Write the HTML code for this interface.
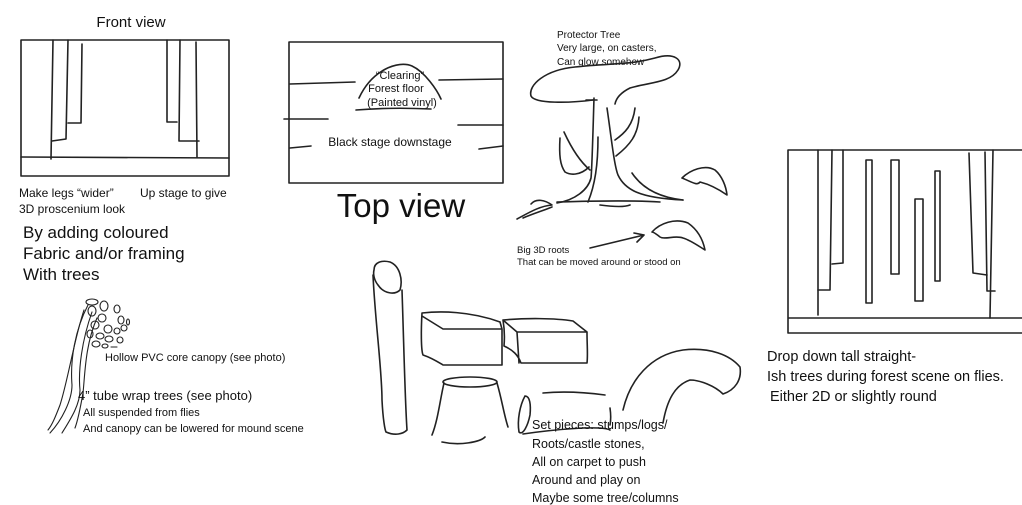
<!DOCTYPE html>
<html><head><meta charset="utf-8"><style>
html,body{margin:0;padding:0;background:#fff;width:1022px;height:505px;overflow:hidden}
svg{display:block}
text{font-family:"Liberation Sans",Arial,sans-serif;fill:#111}
.l{fill:none;stroke:#222;stroke-width:1.6;stroke-linecap:round;stroke-linejoin:round}
.t{fill:none;stroke:#222;stroke-width:1.1;stroke-linecap:round}
</style></head><body>
<svg width="1022" height="505" viewBox="0 0 1022 505" xmlns="http://www.w3.org/2000/svg">
<!-- Front view -->
<text x="131" y="27" font-size="15" text-anchor="middle">Front view</text>
<rect x="21" y="40" width="208" height="136" class="l"/>
<line x1="21" y1="157" x2="229" y2="158" class="l"/>
<polyline points="53,40 51,159" class="l"/>
<polyline points="52,141 66,139 68,40" class="l"/>
<polyline points="68,123 81,123 82,44" class="l"/>
<polyline points="167,40 167,122 177,122" class="l"/>
<polyline points="180,40 179,141 199,141" class="l"/>
<polyline points="196,42 197,157" class="l"/>
<text x="19" y="197" font-size="12">Make legs “wider”</text>
<text x="140" y="197" font-size="12">Up stage to give</text>
<text x="19" y="213" font-size="12">3D proscenium look</text>
<text x="23" y="238" font-size="17">By adding coloured</text>
<text x="23" y="259" font-size="17">Fabric and/or framing</text>
<text x="23" y="280" font-size="17">With trees</text>

<!-- Top view -->
<rect x="289" y="42" width="214" height="141" class="l"/>
<line x1="290" y1="84" x2="355" y2="82" class="l"/>
<line x1="439" y1="80" x2="503" y2="79" class="l"/>
<line x1="284" y1="119" x2="328" y2="119" class="l"/>
<line x1="458" y1="125" x2="503" y2="125" class="l"/>
<line x1="290" y1="148" x2="311" y2="146" class="l"/>
<line x1="479" y1="149" x2="503" y2="146" class="l"/>
<path d="M359,98 C372,70 398,60 412,66 C425,72 437,90 441,99" class="l"/>
<path d="M356,110 C380,108 410,108 431,109" class="l"/>
<text x="400" y="79" font-size="11" text-anchor="middle">“Clearing”</text>
<text x="396" y="92" font-size="11" text-anchor="middle">Forest floor</text>
<text x="402" y="106" font-size="11" text-anchor="middle">(Painted vinyl)</text>
<text x="390" y="146" font-size="12" text-anchor="middle">Black stage downstage</text>
<text x="401" y="217" font-size="33" text-anchor="middle">Top view</text>

<!-- Protector tree -->
<text x="557" y="38" font-size="10">Protector Tree</text>
<text x="557" y="51" font-size="10">Very large, on casters,</text>
<text x="557" y="65" font-size="10">Can glow somehow</text>
<path d="M593,100 C570,103 535,104 531,96 C528,85 545,70 575,67 C610,63 630,65 655,58 C675,52 684,60 678,70 C670,83 650,82 630,88 C620,93 616,99 615,104" class="l"/>
<path d="M586,100 L597,100 M594,98 C593,130 592,170 591,178 C588,190 575,200 557,203" class="l"/>
<path d="M598,137 C598,165 595,185 588,202" class="l"/>
<path d="M607,108 C611,135 614,165 618,175 C625,190 640,198 683,200" class="l"/>
<path d="M557,202 C590,201 630,200 660,202 M600,205 C615,207 625,207 630,205" class="l"/>
<path d="M560,138 C559,155 560,165 565,172 C570,175 580,176 589,167" class="l"/>
<path d="M564,132 C570,145 578,160 590,170" class="l"/>
<path d="M615,140 C625,133 633,125 635,108" class="l"/>
<path d="M616,156 C630,145 638,135 639,117" class="l"/>
<path d="M632,173 C640,185 655,197 683,200" class="l"/>
<path d="M517,219 C530,212 540,206 552,205 C545,200 536,198 531,204 M523,218 C535,213 545,210 552,207" class="l"/>
<path d="M682,178 C690,170 705,164 715,170 C722,176 726,186 727,195 C717,188 708,184 700,182 C697,186 692,182 682,178" class="l"/>
<path d="M652,232 C660,223 675,218 688,223 C698,230 703,240 705,250 C697,245 690,240 683,238 C675,235 665,240 660,237 C656,234 654,232 652,232" class="l"/>
<text x="517" y="253" font-size="9.5">Big 3D roots</text>
<text x="517" y="265" font-size="9.5">That can be moved around or stood on</text>
<path d="M590,248 L644,235 M634,233 L644,235 L637,242" class="l" stroke-width="1.3"/>

<!-- Drop down trees -->
<path d="M788,150 L1022,150 M788,150 L788,333 L1022,333 M788,318 L1022,318" class="l"/>
<polyline points="818,150 818,315" class="l"/>
<polyline points="818,290 830,290 832,150" class="l"/>
<polyline points="832,264 843,263 843,150" class="l"/>
<rect x="866" y="160" width="6" height="143" class="l" fill="none"/>
<rect x="891" y="160" width="8" height="114" class="l" fill="none"/>
<rect x="915" y="199" width="8" height="102" class="l" fill="none"/>
<rect x="935" y="171" width="5" height="110" class="l" fill="none"/>
<polyline points="969,153 973,273 987,275" class="l"/>
<polyline points="985,152 987,291 995,291" class="l"/>
<polyline points="993,150 990,318" class="l"/>
<text x="767" y="361" font-size="14.5">Drop down tall straight-</text>
<text x="767" y="381" font-size="14.5">Ish trees during forest scene on flies.</text>
<text x="770" y="401" font-size="14.5">Either 2D or slightly round</text>

<!-- Canopy -->
<g class="t">
<ellipse cx="92" cy="302" rx="6" ry="3"/><ellipse cx="104" cy="306" rx="4" ry="5"/><ellipse cx="117" cy="309" rx="3" ry="4"/>
<ellipse cx="92" cy="311" rx="4" ry="5"/><ellipse cx="102" cy="318" rx="4" ry="4"/><ellipse cx="121" cy="320" rx="3" ry="4"/><ellipse cx="128" cy="322" rx="1.5" ry="3"/>
<ellipse cx="95" cy="325" rx="4" ry="4"/><ellipse cx="108" cy="329" rx="4" ry="4"/><ellipse cx="117" cy="331" rx="3" ry="3"/><ellipse cx="124" cy="328" rx="3" ry="3"/>
<ellipse cx="90" cy="334" rx="3" ry="4"/><ellipse cx="100" cy="336" rx="4" ry="3"/><ellipse cx="109" cy="339" rx="4" ry="3"/><ellipse cx="120" cy="340" rx="3" ry="3"/>
<ellipse cx="96" cy="344" rx="4" ry="3"/><ellipse cx="105" cy="346" rx="3" ry="2"/><line x1="111" y1="347" x2="117" y2="347"/>
</g>
<path d="M88,305 C75,330 70,360 72,385 C72,400 62,420 50,433" class="t"/>
<path d="M92,312 C82,340 78,370 80,390 C80,405 70,420 62,433" class="t"/>
<path d="M97,318 C85,345 85,375 83,393 C80,410 78,420 75,428" class="t"/>
<path d="M84,310 C74,340 68,380 60,405 C55,418 52,425 48,430" class="t"/>
<text x="105" y="361" font-size="11">Hollow PVC core canopy (see photo)</text>
<text x="78" y="400" font-size="13">4” tube wrap trees (see photo)</text>
<text x="83" y="416" font-size="11">All suspended from flies</text>
<text x="83" y="432" font-size="11">And canopy can be lowered for mound scene</text>

<!-- Set pieces -->
<path d="M374,270 C374,262 382,260 390,262 C400,266 403,280 400,290 C395,295 384,294 378,285 C374,280 373,274 374,270" class="l"/>
<path d="M373,275 C375,320 382,370 382,400 C383,420 385,430 386,432 C395,436 403,434 407,430 C405,400 404,350 402,290" class="l"/>
<path d="M422,313 C440,311 470,311 500,322 M422,313 C421,330 421,350 423,355 C432,358 438,362 443,365 L502,365 L502,329 L443,329 L422,316 M500,322 L502,329" class="l"/>
<path d="M503,320 C525,318 555,318 573,321 L587,332 M503,320 L517,332 L587,332 C587,345 588,355 587,363 L521,363 C518,355 513,350 504,346 C505,335 504,326 503,320 M517,332 L519,363" class="l"/>
<ellipse cx="470" cy="382" rx="27" ry="5" class="l"/>
<path d="M444,383 C440,400 438,420 432,435 M497,383 C502,400 504,415 508,427 M442,442 C460,446 480,442 485,437" class="l"/>
<path d="M525,396 C520,405 517,420 519,432 C523,436 528,425 530,415 C531,405 530,396 525,396" class="l"/>
<path d="M543,393 C565,391 590,393 605,395 M523,434 C550,430 600,425 610,430 M610,408 C611,415 611,420 610,425" class="l"/>
<path d="M623,410 C630,380 650,355 683,350 C710,347 730,355 740,367 C742,380 735,390 723,394 C715,386 700,380 690,380 C675,385 667,400 663,423" class="l"/>
<text x="532" y="429" font-size="12.5">Set pieces: stumps/logs/</text>
<text x="532" y="448" font-size="12.5">Roots/castle stones,</text>
<text x="532" y="466" font-size="12.5">All on carpet to push</text>
<text x="532" y="484" font-size="12.5">Around and play on</text>
<text x="532" y="502" font-size="12.5">Maybe some tree/columns</text>
</svg>
</body></html>
